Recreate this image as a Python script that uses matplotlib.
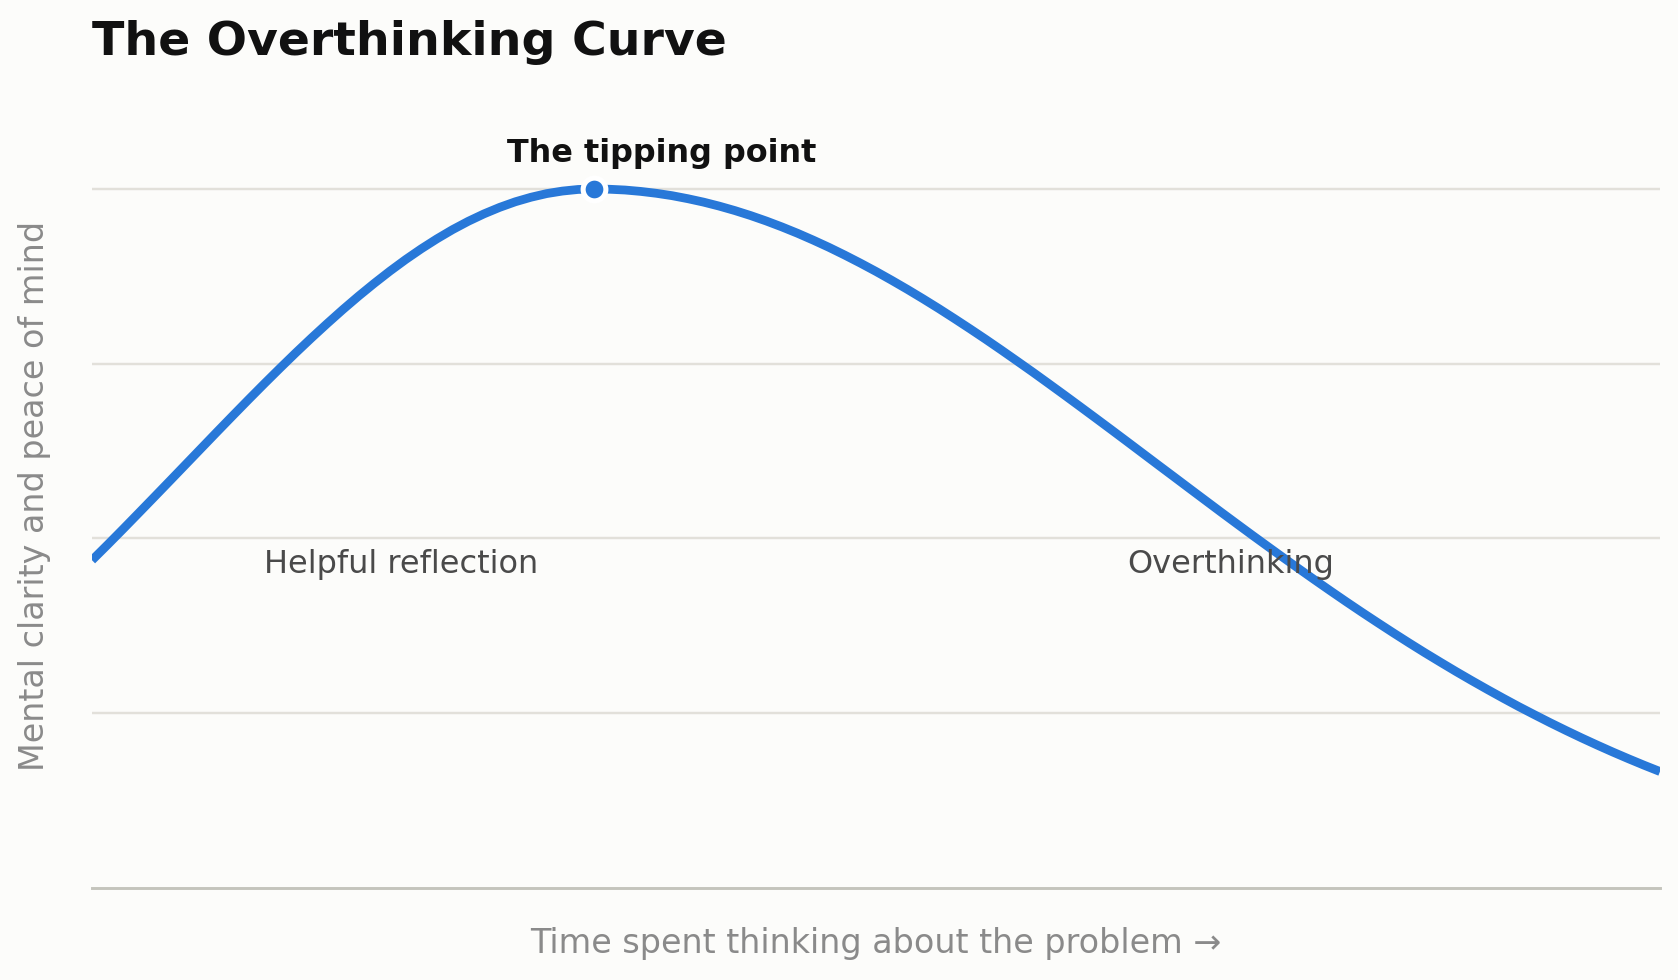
import matplotlib
matplotlib.use("Agg")
import matplotlib.pyplot as plt

# ---- data ----
time_spent = [round(i * 0.1, 1) for i in range(101)]
clarity = [
    0.4689, 0.4912, 0.5139, 0.5369, 0.5600, 0.5832, 0.6065, 0.6298, 0.6531, 0.6762,
    0.6991, 0.7217, 0.7439, 0.7657, 0.7869, 0.8075, 0.8275, 0.8467, 0.8650, 0.8825,
    0.8990, 0.9144, 0.9287, 0.9419, 0.9538, 0.9644, 0.9737, 0.9817, 0.9882, 0.9934,
    0.9970, 0.9993, 1.0000, 0.9996, 0.9985, 0.9965, 0.9938, 0.9904, 0.9861, 0.9812,
    0.9755, 0.9691, 0.9620, 0.9542, 0.9457, 0.9366, 0.9268, 0.9165, 0.9055, 0.8940,
    0.8820, 0.8694, 0.8564, 0.8429, 0.8290, 0.8146, 0.7999, 0.7849, 0.7695, 0.7538,
    0.7380, 0.7218, 0.7055, 0.6890, 0.6724, 0.6557, 0.6389, 0.6220, 0.6051, 0.5883,
    0.5714, 0.5546, 0.5378, 0.5212, 0.5047, 0.4884, 0.4722, 0.4562, 0.4404, 0.4248,
    0.4094, 0.3943, 0.3795, 0.3649, 0.3506, 0.3366, 0.3230, 0.3096, 0.2966, 0.2839,
    0.2715, 0.2594, 0.2478, 0.2364, 0.2254, 0.2147, 0.2044, 0.1944, 0.1848, 0.1755,
    0.1666,
]
tipping_x = 3.2
tipping_y = 1.0
grid_levels = [0.25, 0.5, 0.75, 1.0]

title = "The Overthinking Curve"
peak_label = "The tipping point"
zone_labels = ["Helpful reflection", "Overthinking"]
zone_label_x = [1.97, 7.26]
zone_label_y = 0.45
x_label = "Time spent thinking about the problem \u2192"
y_label = "Mental clarity and peace of mind"

# ---- style ----
BG = "#fcfcfa"
LINE = "#2878d8"
GRID = "#e2e0da"
BASE = "#c4c4bc"

fig = plt.figure(figsize=(1679 / 140, 980 / 140), dpi=140, facecolor=BG)
ax = fig.add_axes([0.05479, 0.09388, 0.93389, 0.79888])
ax.set_facecolor(BG)

ax.set_xlim(0, 10)
ax.set_ylim(0, 1.12)

for g in grid_levels:
    ax.axhline(g, color=GRID, lw=1.25, zorder=1)

ax.plot(time_spent, clarity, color=LINE, lw=4.5, solid_joinstyle="round",
        solid_capstyle="butt", zorder=3, clip_on=True)
ax.plot([tipping_x], [tipping_y], "o", color=LINE, ms=11.7, mec="white", mew=2.6,
        zorder=4, clip_on=False)

ax.text(3.635, 1.039, peak_label, ha="center", va="baseline", fontsize=16.4,
        fontweight="bold", color="#111111")
for lbl, lx in zip(zone_labels, zone_label_x):
    ax.text(lx, zone_label_y, lbl, ha="center", va="baseline", fontsize=16.45,
            color="#4a4a4a")

for s in ["top", "right", "left"]:
    ax.spines[s].set_visible(False)
ax.spines["bottom"].set_color(BASE)
ax.spines["bottom"].set_linewidth(1.5)
ax.set_xticks([])
ax.set_yticks([])

fig.text(92 / 1679, 1 - 55 / 980, title, ha="left", va="baseline", fontsize=24.4,
         fontweight="bold", color="#111111")
fig.text(876 / 1679, 1 - 953 / 980, x_label, ha="center", va="baseline", fontsize=17.15,
         color="#8a8a8a")
fig.text(44 / 1679, 1 - 496.4 / 980, y_label, ha="center", va="baseline", rotation=90,
         rotation_mode="anchor", fontsize=17.15, color="#8a8a8a")

fig.savefig("out.png", dpi=140, facecolor=BG)
